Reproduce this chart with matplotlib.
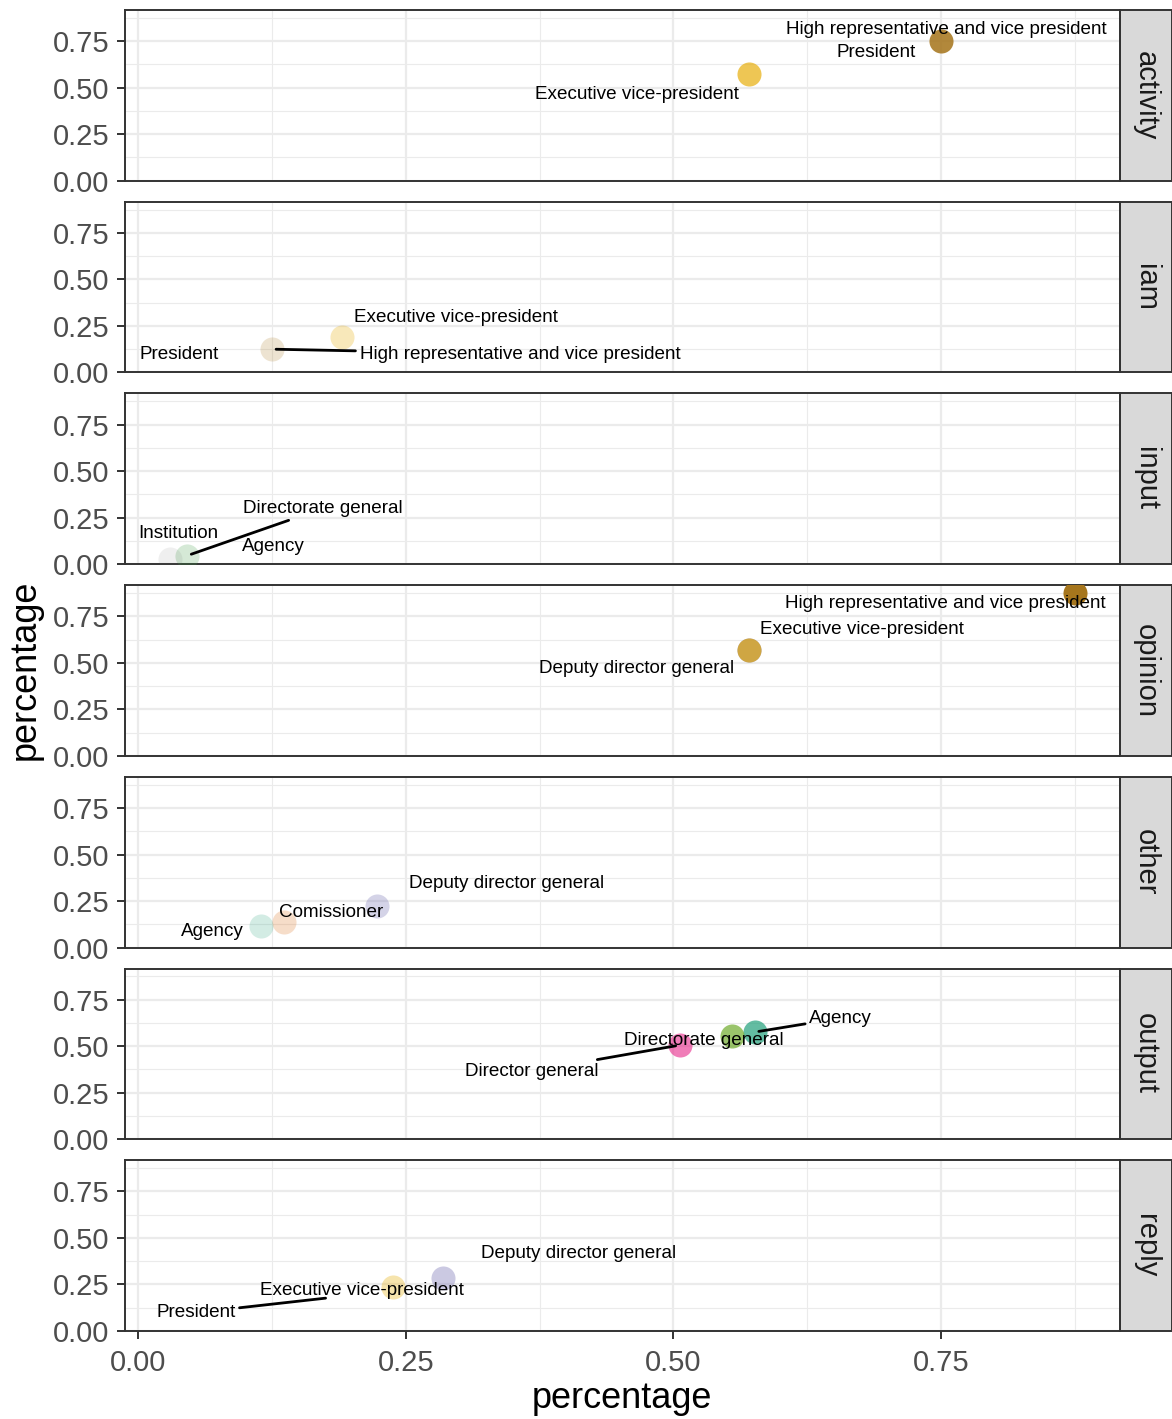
import matplotlib
matplotlib.use("Agg")
import matplotlib.pyplot as plt
from matplotlib.patches import Rectangle
from matplotlib.ticker import FixedLocator, FormatStrFormatter

plt.rcParams["font.family"] = ["Liberation Sans", "DejaVu Sans"]

FACETS = ["activity", "iam", "input", "opinion", "other", "output", "reply"]

# role share per facet; the same share is used on both axes
ACTIVITY_ROLES = ["Executive vice-president", "High representative and vice president", "President"]
ACTIVITY_PCT = [0.571, 0.75, 0.70]

IAM_ROLES = ["Executive vice-president", "High representative and vice president", "President"]
IAM_PCT = [0.19, 0.125, 0.05]

INPUT_ROLES = ["Agency", "Directorate general", "Institution"]
INPUT_PCT = [0.046, 0.046, 0.03]

OPINION_ROLES = ["Deputy director general", "Executive vice-president", "High representative and vice president"]
OPINION_PCT = [0.571, 0.571, 0.875]

OTHER_ROLES = ["Agency", "Comissioner", "Deputy director general"]
OTHER_PCT = [0.115, 0.136, 0.223]

OUTPUT_ROLES = ["Agency", "Director general", "Directorate general"]
OUTPUT_PCT = [0.576, 0.506, 0.555]

REPLY_ROLES = ["Deputy director general", "Executive vice-president", "President"]
REPLY_PCT = [0.285, 0.238, 0.179]

DATA = {
    "activity": (ACTIVITY_ROLES, ACTIVITY_PCT),
    "iam": (IAM_ROLES, IAM_PCT),
    "input": (INPUT_ROLES, INPUT_PCT),
    "opinion": (OPINION_ROLES, OPINION_PCT),
    "other": (OTHER_ROLES, OTHER_PCT),
    "output": (OUTPUT_ROLES, OUTPUT_PCT),
    "reply": (REPLY_ROLES, REPLY_PCT),
}

# Dark2 has only eight colours, so the ninth role (President) gets no point
DARK2 = ["#1b9e77", "#d95f02", "#7570b3", "#e7298a",
         "#66a61e", "#e6ab02", "#a6761d", "#666666"]
ALL_ROLES = sorted({r for roles, _ in DATA.values() for r in roles})
ROLE_COLOR = {r: (DARK2[i] if i < len(DARK2) else None) for i, r in enumerate(ALL_ROLES)}

# label placement: offset of the label centre from its point, in pixels,
# and whether a leader segment is drawn
LABEL_POS = {
    ("activity", "Executive vice-president"): (-112, -20, False),
    ("activity", "High representative and vice president"): (5, 12, False),
    ("activity", "President"): (-11, -2, False),
    ("iam", "Executive vice-president"): (114, 20, False),
    ("iam", "High representative and vice president"): (248, -5, True),
    ("iam", "President"): (-13, 9, False),
    ("input", "Agency"): (86, 9, False),
    ("input", "Directorate general"): (135, 47, True),
    ("input", "Institution"): (8, 25, False),
    ("opinion", "Deputy director general"): (-113, -19, False),
    ("opinion", "Executive vice-president"): (113, 20, False),
    ("opinion", "High representative and vice president"): (-129, -10, False),
    ("other", "Agency"): (-49, -5, False),
    ("other", "Comissioner"): (47, 10, False),
    ("other", "Deputy director general"): (130, 23, False),
    ("output", "Agency"): (86, 14, True),
    ("output", "Director general"): (-148, -26, True),
    ("output", "Directorate general"): (-28, -5, False),
    ("reply", "Deputy director general"): (135, 24, False),
    ("reply", "Executive vice-president"): (-31, -4, False),
    ("reply", "President"): (-134, -15, True),
}

all_pct = [p for _, pcts in DATA.values() for p in pcts]
pmin, pmax = min(all_pct), max(all_pct)
span = pmax - pmin
XLIM = (pmin - 0.05 * span, pmax + 0.05 * span)
YLIM = (0, XLIM[1])


def alpha_of(p):
    # alpha scale over the share, range 0.1 .. 1
    return 0.1 + 0.9 * (p - pmin) / span


W, H = 1172, 1419
fig = plt.figure(figsize=(W / 100, H / 100), dpi=100)
gs = fig.add_gridspec(len(FACETS), 1, left=125 / W, right=1120 / W,
                      top=1 - 10 / H, bottom=1 - 1331 / H, hspace=0.123)

GRID = "#ebebeb"
DARK = "#333333"
ticks = [0, 0.25, 0.5, 0.75]
minor = [0.125, 0.375, 0.625, 0.875]

for i, facet in enumerate(FACETS):
    ax = fig.add_subplot(gs[i])
    last = i == len(FACETS) - 1
    ax.set_xlim(*XLIM)
    ax.set_ylim(*YLIM)
    for axis in (ax.xaxis, ax.yaxis):
        axis.set_major_locator(FixedLocator(ticks))
        axis.set_minor_locator(FixedLocator(minor))
        axis.set_major_formatter(FormatStrFormatter("%.2f"))
    ax.grid(which="major", color=GRID, lw=1.6)
    ax.grid(which="minor", color=GRID, lw=0.8)
    ax.set_axisbelow(True)
    for sp in ax.spines.values():
        sp.set_color(DARK)
        sp.set_linewidth(1.4)
    ax.tick_params(which="major", length=6, width=1.4, color=DARK,
                   labelsize=21, labelcolor="#4d4d4d", pad=5)
    ax.tick_params(which="minor", length=0)
    ax.tick_params(axis="x", labelbottom=last, length=6 if last else 0, pad=7)

    roles, pcts = DATA[facet]
    for role, p in zip(roles, pcts):
        c = ROLE_COLOR[role]
        if c is not None:
            ax.scatter([p], [p], s=300, color=c, alpha=alpha_of(p),
                       linewidths=0, zorder=3)
    for role, p in zip(roles, pcts):
        dx, dy, seg = LABEL_POS[(facet, role)]
        kw = {}
        if seg:
            kw["arrowprops"] = dict(arrowstyle="-", color="black", lw=2,
                                    shrinkA=1, shrinkB=3)
        ax.annotate(role, xy=(p, p), xytext=(dx, dy), textcoords="offset pixels",
                    ha="center", va="center", fontsize=13.6, color="black",
                    zorder=4, **kw)

    # facet strip on the right
    sw = 52 / 995
    ax.add_patch(Rectangle((1, 0), sw, 1, transform=ax.transAxes, clip_on=False,
                           facecolor="#d9d9d9", edgecolor=DARK, lw=1.4))
    ax.text(1 + sw / 2, 0.5, facet, transform=ax.transAxes, rotation=-90,
            ha="center", va="center", fontsize=21, color="#1a1a1a")

fig.text(622 / W, 1 - 1398 / H, "percentage", ha="center", va="center", fontsize=26)
fig.text(25 / W, 1 - 670 / H, "percentage", ha="center", va="center",
         rotation=90, fontsize=26)

fig.savefig("out.png", dpi=100, facecolor="white")
